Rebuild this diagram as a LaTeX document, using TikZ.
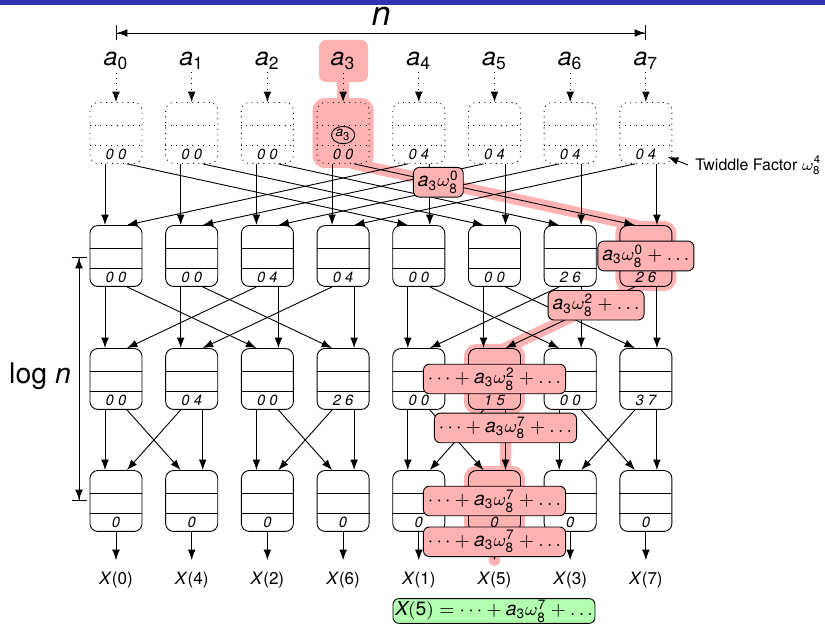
\documentclass[tikz,border=0pt]{standalone}
\usepackage{amsmath}
\usepackage{fontspec}
\setmainfont{TeX Gyre Heros}
\usepackage{tikz}
\usetikzlibrary{arrows.meta, backgrounds, shapes.geometric}

\definecolor{framebar}{RGB}{51,51,178}
\colorlet{hilite}{red!30}
\colorlet{result}{green!30}

\newcommand{\coef}{\textit{a}_{\text{3}}}
\newcommand{\twid}[1]{\omega_{\text{8}}^{\text{#1}}}
\newcommand{\portsep}{4.84pt}

\begin{document}
\begin{tikzpicture}[x=0.44pt, y=-0.44pt, line width=0.4pt,
  >={Latex[length=4.6pt, width=3.4pt]},
  dimline/.style={{Bar[width=6.6pt]Latex[length=4.6pt, width=3.4pt]}-{Latex[length=4.6pt, width=3.4pt]Bar[width=6.6pt]}},
  cell/.style={draw, rounded corners=3.5pt, minimum width=22.9pt, minimum height=26.8pt, inner sep=0pt},
  hicell/.style={fill=hilite, preaction={draw=hilite, line width=4pt, solid}},
  idx/.style={font=\fontsize{6.5}{7}\selectfont\itshape, inner sep=0pt},
  coefname/.style={font=\fontsize{11}{13}\selectfont, inner sep=1pt},
  outname/.style={font=\fontsize{7.5}{9}\selectfont, inner sep=5pt},
  partial/.style={draw, fill=hilite, rounded corners=2.6pt, inner xsep=2pt, inner ysep=1.5pt, minimum height=13pt, font=\fontsize{8.5}{10}\selectfont},
  trail/.style={hilite, line width=5pt, line cap=round, line join=round}]
  \useasboundingbox (0,0) rectangle (825,625);
  \fill[framebar] (0,0) rectangle (825,5);

  \coordinate (nl) at (116,33);
  \coordinate (nr) at (646,33);
  \draw[dimline] (nl) -- (nr);
  \node[font=\fontsize{15}{18}\selectfont] (nlab) at (381,16) {\textit{n}};
  \coordinate (lt) at (79,257);
  \coordinate (lb) at (79,501);
  \draw[dimline] (lt) -- (lb);
  \node[font=\fontsize{12.5}{15}\selectfont] (loglab) at (40,376) {log \textit{n}};

  \foreach \lab/\hl [count=\i from 0] in {0 0/,0 0/,0 0/,0 0/hicell,0 4/,0 4/,0 4/,0 4/} {
    \node[coefname] (a\i) at (116+75.7*\i,61) {\textit{a}\textsubscript{\i}};
    \node[cell, dotted, \hl] (b1\i) at (116+75.7*\i,133) {};
    \draw[dotted] ([yshift=3.5pt]b1\i.west) -- ([yshift=3.5pt]b1\i.east);
    \draw[dotted] ([yshift=-5.3pt]b1\i.west) -- ([yshift=-5.3pt]b1\i.east);
    \node[idx] (d1\i) at ([yshift=-9.2pt]b1\i.center) {\lab};
    \draw[->, dotted] (a\i) -- (b1\i);
  }
  \node[draw, ellipse, inner sep=0.3pt, font=\fontsize{6}{7}\selectfont] (ca3) at ([yshift=-0.9pt]b13.center) {\textit{a}\textsubscript{3}};

  \foreach \lab/\hl [count=\i from 0] in {0 0/,0 0/,0 4/,0 4/,0 0/,0 0/,2 6/,2 6/hicell} {
    \node[cell, \hl] (b2\i) at (116+75.7*\i,256) {};
    \draw ([yshift=3.5pt]b2\i.west) -- ([yshift=3.5pt]b2\i.east);
    \draw ([yshift=-5.3pt]b2\i.west) -- ([yshift=-5.3pt]b2\i.east);
    \node[idx] (d2\i) at ([yshift=-9.2pt]b2\i.center) {\lab};
  }
  \foreach \lab/\hl [count=\i from 0] in {0 0/,0 4/,0 0/,2 6/,0 0/,1 5/hicell,0 0/,3 7/} {
    \node[cell, \hl] (b3\i) at (116+75.7*\i,379) {};
    \draw ([yshift=3.5pt]b3\i.west) -- ([yshift=3.5pt]b3\i.east);
    \draw ([yshift=-5.3pt]b3\i.west) -- ([yshift=-5.3pt]b3\i.east);
    \node[idx] (d3\i) at ([yshift=-9.2pt]b3\i.center) {\lab};
  }
  \foreach \lab/\hl [count=\i from 0] in {0/,0/,0/,0/,0/,0/hicell,0/,0/} {
    \node[cell, \hl] (b4\i) at (116+75.7*\i,501) {};
    \draw ([yshift=3.5pt]b4\i.west) -- ([yshift=3.5pt]b4\i.east);
    \draw ([yshift=-5.3pt]b4\i.west) -- ([yshift=-5.3pt]b4\i.east);
    \node[idx] (d4\i) at ([yshift=-9.2pt]b4\i.center) {\lab};
  }
  \foreach \j [count=\i from 0] in {0,4,2,6,1,5,3,7} {
    \node[outname] (x\i) at (116+75.7*\i,580) {\textit{X}(\j)};
    \draw[->] (b4\i) -- (x\i);
  }

  \foreach \lvl/\h in {1/4,2/2,3/1} {
    \pgfmathtruncatemacro{\nxt}{\lvl+1}
    \foreach \i in {0,...,7} {
      \pgfmathtruncatemacro{\m}{mod(\i,2*\h)}
      \ifnum\m<\h\relax
        \pgfmathtruncatemacro{\p}{\i+\h}
        \draw[->] ([xshift=-\portsep]b\lvl\i.south) -- ([xshift=-\portsep]b\nxt\i.north);
        \draw[->] ([xshift=\portsep]b\lvl\i.south) -- ([xshift=-\portsep]b\nxt\p.north);
        \draw[->] ([xshift=-\portsep]b\lvl\p.south) -- ([xshift=\portsep]b\nxt\i.north);
        \draw[->] ([xshift=\portsep]b\lvl\p.south) -- ([xshift=\portsep]b\nxt\p.north);
      \fi
    }
  }

  \begin{scope}[on background layer]
    \fill[hilite, rounded corners=3pt] ([shift={(-24,-21)}]a3.center) rectangle ([shift={(25,21)}]a3.center);
    \draw[trail] (a3.center) -- (b13.center);
    \draw[trail] (b13.center) -- ([xshift=\portsep]b13.south) -- ([xshift=-\portsep]b27.north) -- (b27.center);
    \draw[trail] (b27.center) -- ([xshift=-\portsep]b27.south) -- ([xshift=\portsep]b35.north) -- (b35.center);
    \draw[trail] (b35.center) -- ([xshift=\portsep]b35.south) -- ([xshift=\portsep]b45.north) -- (b45.center) -- (x5.north);
  \end{scope}

  \path ([xshift=\portsep]b13.south) -- ([xshift=-\portsep]b27.north) node[partial, pos=0.3] (p1) {$\coef\twid{0}$};
  \node[partial] (p2) at (b27) {$\coef\twid{0}+\ldots$};
  \path ([xshift=-\portsep]b27.south) -- ([xshift=\portsep]b35.north) node[partial, pos=0.3] (p3) {$\coef\twid{2}+\ldots$};
  \node[partial] (p4) at (b35) {$\cdots+\coef\twid{2}+\ldots$};
  \path ([xshift=\portsep]b35.south) -- ([xshift=\portsep]b45.north) node[partial, pos=0.3] (p5) {$\cdots+\coef\twid{7}+\ldots$};
  \node[partial] (p6) at (b45) {$\cdots+\coef\twid{7}+\ldots$};
  \path (b45) -- (x5) node[partial, pos=0.35] (p7) {$\cdots+\coef\twid{7}+\ldots$};
  \node[draw, fill=result, rounded corners=2.6pt, inner xsep=1pt, inner ysep=0.5pt, font=\fontsize{8.5}{10}\selectfont] (sum) at (494,611) {$\textit{X}(\text{5})=\cdots+\coef\twid{7}+\ldots$};

  \node[font=\fontsize{7}{8}\selectfont, anchor=west, inner sep=3pt] (tw) at (688,165) {Twiddle Factor $\twid{4}$};
  \draw[->] (tw.west) -- ([shift={(22,24)}]b17.center);
\end{tikzpicture}
\end{document}
